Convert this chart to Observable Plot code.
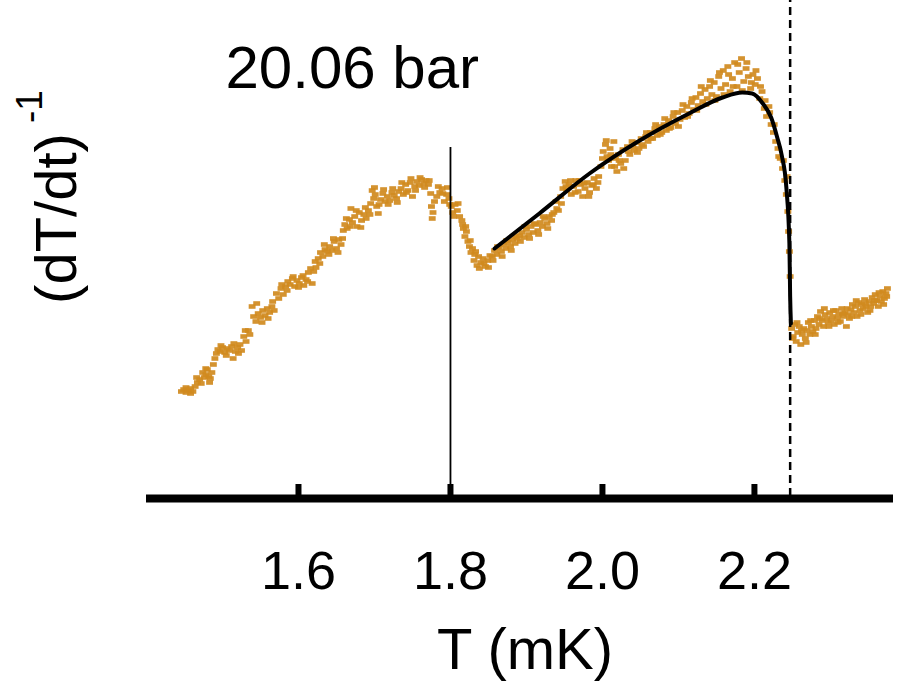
<!DOCTYPE html>
<html><head><meta charset="utf-8">
<script src="https://cdn.jsdelivr.net/npm/d3@7"></script>
<script src="https://cdn.jsdelivr.net/npm/@observablehq/plot@0.6"></script>
<style>body{margin:0;background:#fff}#chart{width:903px;height:682px}</style>
</head><body><div id="chart"></div>
<script>
// Measured points (T in mK, inverse warming rate in arbitrary units)
const lowBranch = [[1.446,1.05],[1.449,1.07],[1.452,1.04],[1.455,1.06],[1.458,1.08],[1.461,1.05],[1.464,1.10],[1.467,1.14],[1.470,1.17],[1.472,1.13],[1.474,1.24],[1.476,1.19],[1.478,1.22],[1.480,1.27],[1.482,1.20],[1.484,1.18],[1.486,1.24],[1.488,1.32],[1.490,1.38],[1.492,1.43],[1.494,1.47],[1.497,1.45],[1.500,1.49],[1.503,1.44],[1.506,1.48],[1.509,1.46],[1.512,1.50],[1.514,1.38],[1.517,1.45],[1.520,1.49],[1.523,1.52],[1.525,1.46],[1.528,1.60],[1.531,1.55],[1.534,1.66],[1.536,1.62],[1.539,1.90],[1.541,1.80],[1.544,1.75],[1.547,1.83],[1.550,1.79],[1.553,1.86],[1.556,1.81],[1.559,1.88],[1.562,1.84],[1.565,1.90],[1.568,1.86],[1.571,2.03],[1.574,1.98],[1.577,2.08],[1.580,2.02],[1.583,2.10],[1.586,2.15],[1.589,2.12],[1.592,2.18],[1.595,2.10],[1.598,2.16],[1.601,2.13],[1.604,2.19],[1.607,2.11],[1.610,2.17],[1.613,2.24],[1.616,2.28],[1.618,2.13],[1.620,2.25],[1.623,2.29],[1.626,2.38],[1.629,2.44],[1.632,2.40],[1.635,2.47],[1.638,2.45],[1.641,2.50],[1.644,2.46],[1.647,2.55],[1.650,2.48],[1.653,2.57],[1.656,2.52],[1.659,2.66],[1.661,2.72],[1.664,2.68],[1.667,2.77],[1.669,2.88],[1.671,2.74],[1.674,2.80],[1.677,2.70],[1.680,2.84],[1.683,2.76],[1.686,2.82],[1.689,2.78],[1.692,2.86],[1.695,2.93],[1.697,3.06],[1.699,2.98],[1.701,3.02],[1.703,2.90],[1.705,2.83],[1.708,2.97],[1.711,3.03],[1.714,2.95],[1.717,3.00],[1.720,2.96],[1.723,3.04],[1.726,3.01],[1.729,2.98],[1.732,3.05],[1.735,3.08],[1.738,3.02],[1.741,3.12],[1.744,3.06],[1.747,3.14],[1.750,3.00],[1.753,3.10],[1.756,3.15],[1.759,3.11],[1.762,3.17],[1.765,3.13],[1.768,3.16],[1.771,3.12],[1.774,3.03],[1.775,2.90],[1.776,2.78],[1.779,2.95],[1.782,3.00],[1.786,3.04],[1.789,3.08],[1.792,2.95],[1.795,3.02],[1.798,2.98]];
const lowBranchSpread = [[1.452,1.09],[1.458,1.03],[1.466,1.19],[1.478,1.28],[1.483,1.14],[1.498,1.51],[1.505,1.41],[1.515,1.53],[1.521,1.43],[1.530,1.66],[1.545,1.93],[1.552,1.74],[1.560,1.78],[1.566,1.95],[1.578,2.12],[1.585,2.06],[1.593,2.20],[1.600,2.09],[1.606,2.21],[1.612,2.15],[1.622,2.35],[1.628,2.33],[1.634,2.52],[1.640,2.42],[1.646,2.58],[1.652,2.44],[1.658,2.58],[1.663,2.78],[1.668,2.70],[1.676,2.86],[1.682,2.69],[1.688,2.89],[1.694,2.82],[1.700,3.09],[1.706,2.92],[1.712,3.07],[1.718,2.92],[1.724,3.08],[1.730,2.94],[1.736,3.14],[1.742,3.04],[1.748,3.18],[1.754,3.06],[1.760,3.19],[1.766,3.09],[1.772,3.16],[1.777,2.84],[1.784,3.10],[1.790,3.03],[1.796,3.09],[1.799,2.92]];
const midBranch = [[1.801,2.90],[1.803,2.84],[1.806,2.92],[1.809,2.86],[1.812,2.80],[1.815,2.76],[1.817,2.68],[1.819,2.60],[1.821,2.65],[1.823,2.55],[1.825,2.50],[1.827,2.44],[1.829,2.48],[1.831,2.36],[1.833,2.45],[1.835,2.31],[1.837,2.40],[1.840,2.34],[1.843,2.38],[1.846,2.30],[1.849,2.36],[1.852,2.41],[1.855,2.40],[1.858,2.46],[1.861,2.42],[1.864,2.49],[1.867,2.45],[1.870,2.52],[1.873,2.48],[1.876,2.54],[1.879,2.50],[1.882,2.57],[1.885,2.53],[1.888,2.58],[1.891,2.61],[1.894,2.64],[1.897,2.59],[1.900,2.67],[1.903,2.62],[1.906,2.70],[1.909,2.64],[1.912,2.72],[1.915,2.66],[1.918,2.74],[1.921,2.70],[1.924,2.78],[1.927,2.73],[1.930,2.80],[1.933,2.76],[1.936,2.84],[1.939,2.95],[1.942,2.86],[1.945,3.00],[1.948,3.08],[1.951,3.15],[1.953,3.06],[1.956,3.12],[1.959,3.02],[1.962,3.10],[1.965,3.16],[1.968,3.05],[1.971,3.12],[1.974,3.00],[1.977,3.08],[1.980,3.14],[1.983,3.04],[1.986,3.11],[1.989,3.18],[1.992,3.08],[1.995,3.20],[1.998,3.30],[2.001,3.45],[2.004,3.52],[2.006,3.40],[2.008,3.36],[2.010,3.48],[2.012,3.30],[2.015,3.55],[2.017,3.38],[2.019,3.25],[2.021,3.42],[2.024,3.33],[2.027,3.47],[2.030,3.36],[2.033,3.50],[2.036,3.42],[2.039,3.55],[2.042,3.46],[2.045,3.54],[2.048,3.48],[2.051,3.58],[2.054,3.50],[2.057,3.60],[2.060,3.55],[2.063,3.64],[2.066,3.58],[2.069,3.68],[2.072,3.61],[2.075,3.70],[2.078,3.64],[2.081,3.72],[2.084,3.66],[2.087,3.76],[2.090,3.69],[2.093,3.80],[2.096,3.73],[2.099,3.84],[2.102,3.77],[2.105,3.86],[2.108,3.79],[2.111,3.90],[2.114,3.83],[2.117,3.94],[2.120,3.87],[2.123,3.99],[2.126,3.91],[2.129,4.03],[2.132,3.95],[2.135,4.07],[2.138,3.98],[2.141,4.10],[2.144,4.02],[2.147,4.14],[2.150,4.00],[2.153,4.20],[2.156,4.08],[2.159,4.26],[2.162,4.12],[2.165,4.30],[2.168,4.05],[2.171,4.18],[2.174,4.34],[2.177,4.10],[2.180,4.24],[2.183,4.38],[2.186,4.15],[2.189,4.28],[2.192,4.20],[2.195,4.08],[2.198,4.22],[2.201,4.12],[2.204,4.18],[2.207,3.98],[2.210,4.05],[2.213,3.88],[2.216,3.80],[2.219,3.90],[2.222,3.72],[2.225,3.64],[2.228,3.55],[2.231,3.48],[2.234,3.38],[2.237,3.28],[2.240,3.16],[2.242,3.02],[2.244,2.85],[2.245,2.65],[2.246,2.45],[2.247,2.20]];
const midBranchSpread = [[1.804,2.80],[1.810,2.93],[1.816,2.72],[1.820,2.70],[1.826,2.56],[1.832,2.42],[1.838,2.28],[1.844,2.33],[1.850,2.29],[1.856,2.36],[1.862,2.50],[1.868,2.40],[1.874,2.56],[1.880,2.46],[1.886,2.60],[1.892,2.55],[1.898,2.70],[1.904,2.58],[1.910,2.73],[1.916,2.62],[1.922,2.80],[1.928,2.68],[1.934,2.82],[1.940,2.88],[1.946,2.93],[1.952,3.10],[1.958,3.16],[1.964,3.04],[1.970,3.16],[1.976,3.13],[1.982,3.00],[1.988,3.12],[1.994,3.14],[2.000,3.38],[2.005,3.56],[2.011,3.42],[2.016,3.30],[2.022,3.36],[2.028,3.28],[2.034,3.45],[2.040,3.50],[2.046,3.44],[2.052,3.52],[2.058,3.64],[2.064,3.58],[2.070,3.72],[2.076,3.62],[2.082,3.78],[2.088,3.68],[2.094,3.84],[2.100,3.70],[2.106,3.92],[2.112,3.80],[2.118,3.98],[2.124,3.86],[2.130,4.10],[2.136,3.92],[2.142,4.16],[2.148,3.96],[2.154,4.24],[2.160,4.02],[2.166,4.22],[2.172,4.10],[2.178,4.32],[2.184,4.06],[2.190,4.34],[2.196,4.14],[2.202,4.26],[2.208,4.10],[2.214,3.96],[2.220,3.84],[2.226,3.72],[2.232,3.40],[2.238,3.36],[2.243,3.20]];
const highBranch = [[2.249,1.68],[2.251,1.60],[2.253,1.72],[2.255,1.55],[2.257,1.64],[2.259,1.70],[2.261,1.52],[2.263,1.62],[2.265,1.68],[2.267,1.58],[2.269,1.66],[2.271,1.74],[2.273,1.62],[2.275,1.70],[2.277,1.65],[2.279,1.76],[2.281,1.68],[2.283,1.80],[2.285,1.72],[2.287,1.85],[2.289,1.76],[2.291,1.70],[2.293,1.82],[2.295,1.78],[2.297,1.74],[2.299,1.84],[2.301,1.76],[2.303,1.80],[2.305,1.72],[2.307,1.86],[2.309,1.78],[2.311,1.82],[2.313,1.75],[2.315,1.88],[2.317,1.80],[2.319,1.84],[2.321,1.70],[2.323,1.82],[2.325,1.78],[2.327,1.87],[2.329,1.92],[2.331,1.84],[2.333,1.90],[2.335,1.80],[2.337,1.94],[2.339,1.86],[2.341,1.92],[2.343,1.88],[2.345,1.97],[2.347,1.90],[2.349,1.84],[2.351,1.95],[2.353,1.90],[2.355,1.99],[2.357,1.93],[2.359,2.02],[2.361,1.96],[2.363,1.90],[2.365,2.00],[2.367,1.95],[2.369,2.05],[2.371,1.98],[2.373,2.03],[2.375,2.08]];
const highBranchSpread = [[2.250,1.58],[2.256,1.74],[2.262,1.66],[2.268,1.54],[2.274,1.76],[2.280,1.62],[2.286,1.78],[2.292,1.88],[2.298,1.70],[2.304,1.86],[2.310,1.74],[2.316,1.83],[2.322,1.88],[2.328,1.80],[2.334,1.96],[2.340,1.82],[2.346,1.93],[2.352,1.86],[2.358,1.96],[2.364,2.04],[2.370,1.92],[2.374,2.00]];
// Fitted curve
const fitT = [1.858, 1.917, 1.983, 2.049, 2.114, 2.158, 2.184, 2.197, 2.211, 2.222, 2.230, 2.236, 2.242, 2.246, 2.247, 2.248];
const fitY = [2.48, 2.83, 3.23, 3.56, 3.83, 3.99, 4.04, 4.03, 3.93, 3.79, 3.59, 3.41, 3.09, 2.53, 2.00, 1.73];
const xTicks = [1.6, 1.8, 2.0, 2.2];
const transitionT = [1.8];
const transitionTop = 3.49;
const criticalT = [2.247];
const pressureLabel = ["20.06 bar"];
const xLabel = ["T (mK)"];
const yLabel = ["(dT/dt)"];
const yExponent = ["-1"];

const points = [...lowBranch, ...lowBranchSpread, ...midBranch, ...midBranchSpread, ...highBranch, ...highBranchSpread].map(([T, y]) => ({T, y}));
const fit = fitT.map((T, i) => ({T, y: fitY[i]}));
const dashSymbol = {draw(ctx, size) { const s = Math.sqrt(size / Math.PI); ctx.rect(-1.5 * s, -s, 3 * s, 2 * s); ctx.closePath(); }};
const ink = "#d08a1e";

const chart = Plot.plot({
  width: 903, height: 682,
  marginLeft: 146, marginRight: 10, marginTop: 0, marginBottom: 186,
  style: {fontFamily: "'Liberation Sans', Arial, Helvetica, sans-serif", background: "white", color: "black"},
  x: {domain: [1.4, 2.383], label: null},
  y: {domain: [0, 4.96], axis: null},
  marks: [
    Plot.dot(points, {x: "T", y: "y", symbol: dashSymbol, r: 2.3, fill: ink, stroke: "none", fillOpacity: 0.92}),
    Plot.ruleX(transitionT, {y1: 0, y2: transitionTop, stroke: "black", strokeWidth: 1.8}),
    Plot.ruleX(criticalT, {y1: 0, y2: 4.96, stroke: "black", strokeWidth: 2.5, strokeDasharray: "8,5"}),
    Plot.line(fit, {x: "T", y: "y", curve: "monotone-x", stroke: "black", strokeWidth: 4}),
    Plot.ruleX(xTicks, {y1: 0, y2: 0.12, stroke: "black", strokeWidth: 6}),
    Plot.ruleY([0], {stroke: "black", strokeWidth: 8, dy: 2}),
    Plot.axisX(xTicks, {tickSize: 0, tickPadding: 54, fontSize: 54, tickFormat: d3.format(".1f"), label: null}),
    Plot.text(xLabel, {frameAnchor: "bottom", dx: 5, dy: 131, lineAnchor: "top", fontSize: 58}),
    Plot.text(pressureLabel, {frameAnchor: "top-left", dx: 79, dy: 45, textAnchor: "start", lineAnchor: "top", fontSize: 60}),
    Plot.text(yLabel, {frameAnchor: "top-left", dx: -89, dy: 218, rotate: -90, textAnchor: "middle", lineAnchor: "middle", fontSize: 58}),
    Plot.text(yExponent, {frameAnchor: "top-left", dx: -116, dy: 106, rotate: -90, textAnchor: "middle", lineAnchor: "middle", fontSize: 37})
  ]
});
document.getElementById("chart").appendChild(chart);
</script>
</body></html>
